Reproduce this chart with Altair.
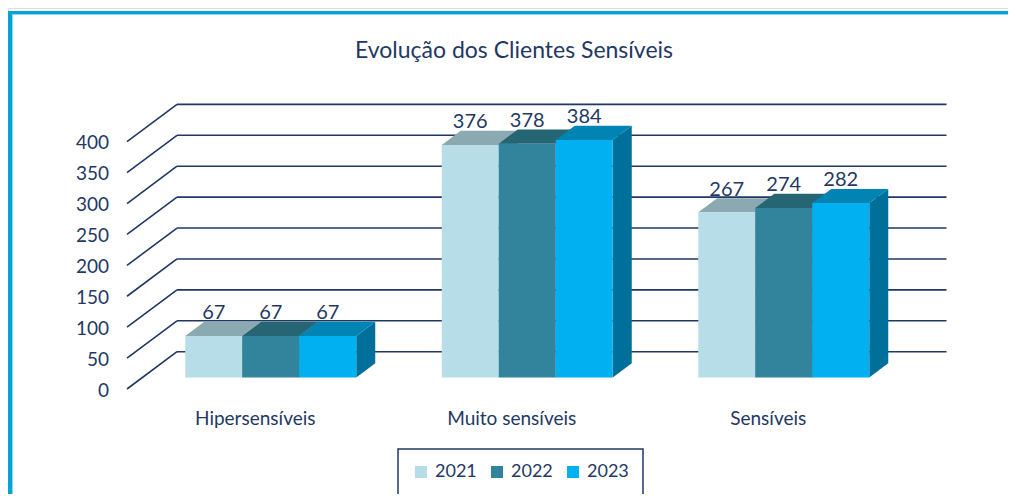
import altair as alt
import pandas as pd

# ---------------- data ----------------
title_text = "Evolução dos Clientes Sensíveis"
categories = ["Hipersensíveis", "Muito sensíveis", "Sensíveis"]
years = ["2021", "2022", "2023"]
values_2021 = [67, 376, 267]
values_2022 = [67, 378, 274]
values_2023 = [67, 384, 282]
y_ticks = [0, 50, 100, 150, 200, 250, 300, 350, 400]

# ---------------- style ----------------
front_colors = ["#B7DEE8", "#31849B", "#00B0F0"]
top_colors = ["#8BA9B0", "#256574", "#0084B4"]
side_colors = ["#7E9CA3", "#1F5664", "#00709A"]
ink = "#1F3864"
frame_blue = "#00A4D6"
frame_light = "#8FD6EE"
FONT = "Lato"
H = 486

# 3-D geometry (in scale units)
HALF_GAP = 0.75          # half of the gap between clusters, in bar widths
PITCH = 4.5              # cluster pitch, in bar widths
N_UNITS = 13.5           # floor length, in bar widths
DXU = 50 / 57            # depth shift of the back wall along x (bar widths)
DYV = 37.3 / 0.61825     # depth shift of the back wall along y (value units)
ZF, ZB = 0.31, 0.69      # front and back depth of the bars

series = [values_2021, values_2022, values_2023]
fronts, front_pts, tops, sides = [], [], [], []
for i, cat in enumerate(categories):
    for j, yr in enumerate(years):
        v = series[j][i]
        uL = HALF_GAP + PITCH * i + j
        uR = uL + 1
        bid = f"{i}-{j}"
        fronts.append(dict(cat=cat, year=yr, value=v,
                           lx=uL + 0.5 + ZF * DXU, ly=v + ZB * DYV))
        for k, px in enumerate([uL + ZF * DXU, uR + ZF * DXU]):
            front_pts.append(dict(bid=bid, k=k, year=yr, x=px,
                                  y=v + ZF * DYV, y2=ZF * DYV))
        tc, sc = top_colors[j], side_colors[j]
        for k, (px, py, py2) in enumerate([
            (uL + ZF * DXU, v + ZF * DYV, v + ZF * DYV),
            (uL + ZB * DXU, v + ZB * DYV, v + ZF * DYV),
            (uR + ZF * DXU, v + ZB * DYV, v + ZF * DYV),
            (uR + ZB * DXU, v + ZB * DYV, v + ZB * DYV),
        ]):
            tops.append(dict(bid=bid, k=k, x=px, y=py, y2=py2, col=tc))
        for k, (px, py, py2) in enumerate([
            (uR + ZF * DXU, v + ZF * DYV, ZF * DYV),
            (uR + ZB * DXU, v + ZB * DYV, ZB * DYV),
        ]):
            sides.append(dict(bid=bid, k=k, x=px, y=py, y2=py2, col=sc))

fronts = pd.DataFrame(fronts)
front_pts = pd.DataFrame(front_pts)
tops = pd.DataFrame(tops)
sides = pd.DataFrame(sides)

grid_rows = []
for t in y_ticks:
    grid_rows.append(dict(t=t, x=0, x2=DXU, y=t, y2=t + DYV))
    grid_rows.append(dict(t=t, x=DXU, x2=N_UNITS + DXU, y=t + DYV, y2=t + DYV))
grid = pd.DataFrame(grid_rows)

tick_df = pd.DataFrame({"t": y_ticks})

cat_df = pd.DataFrame({"cat": categories,
                       "x": [HALF_GAP + PITCH * i + 1.5 for i in range(len(categories))],
                       "y": [0] * len(categories)})

# ---------------- scales ----------------
xs = alt.Scale(domain=[0, N_UNITS], range=[119, 888.5], nice=False, zero=False)
ys = alt.Scale(domain=[0, 400], range=[381, 133.7], nice=False, zero=False)

one = pd.DataFrame({"a": [0]})

frame_top = alt.Chart(one).mark_rule(color=frame_blue, strokeWidth=3).encode(
    x=alt.value(0), x2=alt.value(1000), y=alt.value(4.5))
frame_top_l = alt.Chart(one).mark_rule(color=frame_light, strokeWidth=1).encode(
    x=alt.value(4), x2=alt.value(1000), y=alt.value(6.5))
frame_left = alt.Chart(one).mark_rule(color=frame_blue, strokeWidth=4).encode(
    x=alt.value(2), y=alt.value(3), y2=alt.value(H))
frame_left_l = alt.Chart(one).mark_rule(color=frame_light, strokeWidth=1).encode(
    x=alt.value(4.5), y=alt.value(7), y2=alt.value(H))

grid_layer = alt.Chart(grid).mark_rule(color=ink, strokeWidth=1.6, opacity=1).encode(
    x=alt.X("x:Q", scale=xs, axis=None),
    x2="x2:Q",
    y=alt.Y("y:Q", scale=ys, axis=None),
    y2="y2:Q",
)

side_layer = alt.Chart(sides).mark_area(interpolate="linear", opacity=1, fillOpacity=1).encode(
    x=alt.X("x:Q", scale=xs, axis=None),
    y=alt.Y("y:Q", scale=ys, axis=None, stack=None),
    y2="y2:Q",
    detail="bid:N",
    color=alt.Color("col:N", scale=None),
)

top_layer = alt.Chart(tops).mark_area(interpolate="linear", opacity=1, fillOpacity=1).encode(
    x=alt.X("x:Q", scale=xs, axis=None),
    y=alt.Y("y:Q", scale=ys, axis=None, stack=None),
    y2="y2:Q",
    detail="bid:N",
    color=alt.Color("col:N", scale=None),
)

front_layer = alt.Chart(front_pts).mark_area(interpolate="linear", opacity=1, fillOpacity=1).encode(
    x=alt.X("x:Q", scale=xs, axis=None),
    y=alt.Y("y:Q", scale=ys, axis=None, stack=None),
    y2="y2:Q",
    detail="bid:N",
    color=alt.Color("year:N",
                    scale=alt.Scale(domain=years, range=front_colors),
                    legend=alt.Legend(title=None, orient="none", legendX=390, legendY=441,
                                      direction="horizontal", symbolType="square",
                                      symbolSize=144, symbolStrokeWidth=0, symbolOpacity=1,
                                      labelFontSize=18, labelColor=ink, labelFont=FONT,
                                      labelOffset=5, columnPadding=11)),
)

y_labels = alt.Chart(tick_df).mark_text(
    fontSize=19, color=ink, font=FONT, baseline="middle", align="right", dy=1.5
).encode(
    x=alt.value(101),
    y=alt.Y("t:Q", scale=ys, axis=None),
    text="t:Q",
)

value_labels = alt.Chart(fronts).mark_text(
    fontSize=20, color=ink, font=FONT, baseline="alphabetic", align="center", dy=-2.5
).encode(
    x=alt.X("lx:Q", scale=xs, axis=None),
    y=alt.Y("ly:Q", scale=ys, axis=None),
    text="value:Q",
)

cat_labels = alt.Chart(cat_df).mark_text(
    fontSize=19, color=ink, font=FONT, baseline="middle", align="center", dy=30
).encode(
    x=alt.X("x:Q", scale=xs, axis=None),
    y=alt.Y("y:Q", scale=ys, axis=None),
    text="cat:N",
)

title_layer = alt.Chart(pd.DataFrame({"t": [title_text]})).mark_text(
    fontSize=23, color=ink, font=FONT, baseline="alphabetic", align="center"
).encode(x=alt.value(506), y=alt.value(49.5), text="t:N")

chart = alt.layer(
    frame_top, frame_top_l, frame_left, frame_left_l,
    grid_layer, side_layer, top_layer, front_layer,
    y_labels, value_labels, cat_labels, title_layer,
).properties(
    width=1000, height=H,
    autosize=alt.AutoSizeParams(type="none"),
    padding=0,
).configure_view(stroke=None).configure(font=FONT).configure_legend(
    strokeColor=ink, strokeWidth=1.5, padding=14, cornerRadius=0
)

chart.save("out.html", embed_options={"renderer": "svg", "actions": False})
